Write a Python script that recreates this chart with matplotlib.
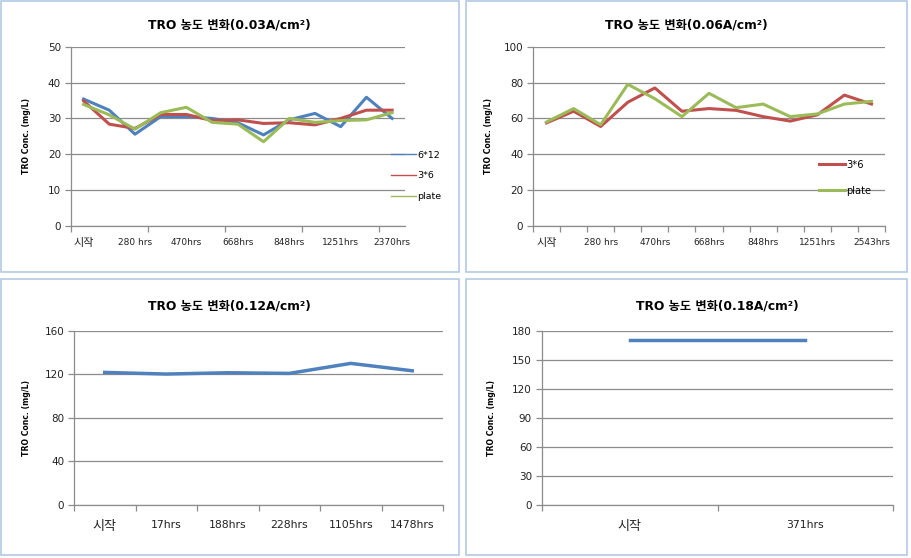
import matplotlib
matplotlib.use("Agg")
import matplotlib.pyplot as plt
from matplotlib.patches import Rectangle
import numpy as np

plt.rcParams['font.family'] = ['DejaVu Sans', 'Noto Sans CJK KR']

# ---------------- data ----------------
labels_03 = ['시작', '', '280 hrs', '', '470hrs', '', '668hrs', '', '848hrs', '', '1251hrs', '', '2370hrs']
s03_6x12 = [35.4, 32.3, 25.6, 30.5, 30.5, 30.0, 28.8, 25.4, 29.6, 31.4, 27.7, 35.9, 30.0]
s03_3x6 = [34.9, 28.4, 27.2, 31.1, 31.1, 29.4, 29.6, 28.6, 28.8, 28.2, 30.0, 32.3, 32.3]
s03_plate = [33.9, 31.0, 27.0, 31.6, 33.1, 28.9, 28.4, 23.5, 30.0, 28.9, 29.4, 29.6, 31.6]

labels_06 = ['시작', '', '280 hrs', '', '470hrs', '', '668hrs', '', '848hrs', '', '1251hrs', '', '2543hrs']
s06_3x6 = [57.5, 64.0, 55.5, 69.0, 77.0, 64.0, 65.5, 64.5, 61.0, 58.5, 62.0, 73.0, 68.0]
s06_plate = [58.0, 65.5, 56.5, 79.0, 71.0, 61.0, 74.0, 66.0, 68.0, 61.0, 62.5, 68.0, 69.5]

labels_12 = ['시작', '17hrs', '188hrs', '228hrs', '1105hrs', '1478hrs']
s12 = [121.7, 120.2, 121.4, 120.8, 130.0, 123.2]

labels_18 = ['시작', '371hrs']
s18 = [170.0, 170.0]

titles = ['TRO 농도 변화(0.03A/cm²)', 'TRO 농도 변화(0.06A/cm²)',
          'TRO 농도 변화(0.12A/cm²)', 'TRO 농도 변화(0.18A/cm²)']
ylabel = 'TRO Conc. (mg/L)'

BLUE = '#4F81BD'
RED = '#C0504D'
GREEN = '#9BBB59'
GRID = '#8C8C8C'

W, H = 911, 558
fig = plt.figure(figsize=(W / 100, H / 100), dpi=100)
fig.patch.set_facecolor('white')


def px_axes(x0, y0, x1, y1):
    return fig.add_axes([x0 / W, 1 - y1 / H, (x1 - x0) / W, (y1 - y0) / H])


def box(x0, y0, x1, y1):
    fig.patches.append(Rectangle((x0 / W, 1 - y1 / H), (x1 - x0) / W, (y1 - y0) / H,
                                 transform=fig.transFigure, fill=False,
                                 edgecolor='#B4CAE3', lw=1.2))


box(1, 1, 459, 272)
box(466, 1, 907, 272)
box(1, 279, 459, 555)
box(466, 279, 907, 555)


def style(ax, n, ymax, ystep, labels, tick_every, xfs, xpad, kfs):
    ax.set_xlim(-0.5, n - 0.5)
    ax.set_ylim(0, ymax)
    ax.set_yticks(np.arange(0, ymax + 0.1, ystep))
    ax.yaxis.grid(True, color=GRID, lw=0.9)
    ax.set_axisbelow(True)
    for s in ['top', 'right']:
        ax.spines[s].set_visible(False)
    for s in ['left', 'bottom']:
        ax.spines[s].set_color(GRID)
        ax.spines[s].set_linewidth(0.9)
    ax.set_xticks(range(n))
    ax.set_xticklabels(labels, fontsize=xfs, color='#222222')
    ax.get_xticklabels()[0].set_fontsize(kfs)
    ax.tick_params(axis='x', which='major', length=0, pad=xpad)
    ax.set_xticks(np.arange(-0.5, n - 0.49, tick_every), minor=True)
    ax.tick_params(axis='x', which='minor', length=4, color=GRID, width=0.9)
    ax.tick_params(axis='y', length=4, color=GRID, width=0.9, labelsize=7.5,
                   labelcolor='#222222', pad=3)


# Panel 1
ax1 = px_axes(70.7, 46.7, 405, 226)
x = np.arange(len(s03_6x12))
ax1.plot(x, s03_6x12, color=BLUE, lw=2.2, label='6*12')
ax1.plot(x, s03_3x6, color=RED, lw=2.2, label='3*6')
ax1.plot(x, s03_plate, color=GREEN, lw=2.2, label='plate')
style(ax1, 13, 50, 10, labels_03, 3, 6.5, 9, 8)
ax1.set_xticks(np.arange(-0.5, 12.0, 3), minor=True)
leg1 = ax1.legend(loc='upper left', bbox_to_anchor=(382 / W, 1 - 142 / H),
                  bbox_transform=fig.transFigure, frameon=False, fontsize=6.8,
                  handlelength=2.7, handletextpad=0.15, labelspacing=1.25)
for ln in leg1.get_lines():
    ln.set_linewidth(1.0)
ax1.set_title(titles[0], fontsize=8.8, fontweight='bold', pad=13, x=0.4735)
ax1.set_ylabel(ylabel, fontsize=5.6, fontweight='bold', labelpad=12)

# Panel 2
ax2 = px_axes(533, 46.7, 885, 226)
x = np.arange(len(s06_3x6))
ax2.plot(x, s06_3x6, color=RED, lw=2.2, label='3*6')
ax2.plot(x, s06_plate, color=GREEN, lw=2.2, label='plate')
style(ax2, 13, 100, 20, labels_06, 1, 6.5, 9, 8)
ax2.legend(loc='upper left', bbox_to_anchor=(810 / W, 1 - 151 / H),
           bbox_transform=fig.transFigure, frameon=False, fontsize=7.1,
           handlelength=2.6, handletextpad=0.2, labelspacing=1.6)
ax2.set_title(titles[1], fontsize=8.8, fontweight='bold', pad=13, x=0.4347)
ax2.set_ylabel(ylabel, fontsize=5.6, fontweight='bold', labelpad=8)

# Panel 3
ax3 = px_axes(74, 330.7, 443, 505)
x = np.arange(len(s12))
ax3.plot(x, s12, color=BLUE, lw=2.5)
style(ax3, 6, 160, 40, labels_12, 1, 7.8, 11, 9.4)
ax3.set_title(titles[2], fontsize=8.8, fontweight='bold', pad=15, x=0.42)
ax3.set_ylabel(ylabel, fontsize=5.6, fontweight='bold', labelpad=10)

# Panel 4
ax4 = px_axes(541.7, 330.7, 893.3, 505)
x = np.arange(len(s18))
ax4.plot(x, s18, color=BLUE, lw=2.5)
style(ax4, 2, 180, 30, labels_18, 1, 7.8, 11, 9.4)
ax4.set_title(titles[3], fontsize=8.8, fontweight='bold', pad=15)
ax4.set_ylabel(ylabel, fontsize=5.6, fontweight='bold', labelpad=12)

fig.savefig('out.png', dpi=100)
